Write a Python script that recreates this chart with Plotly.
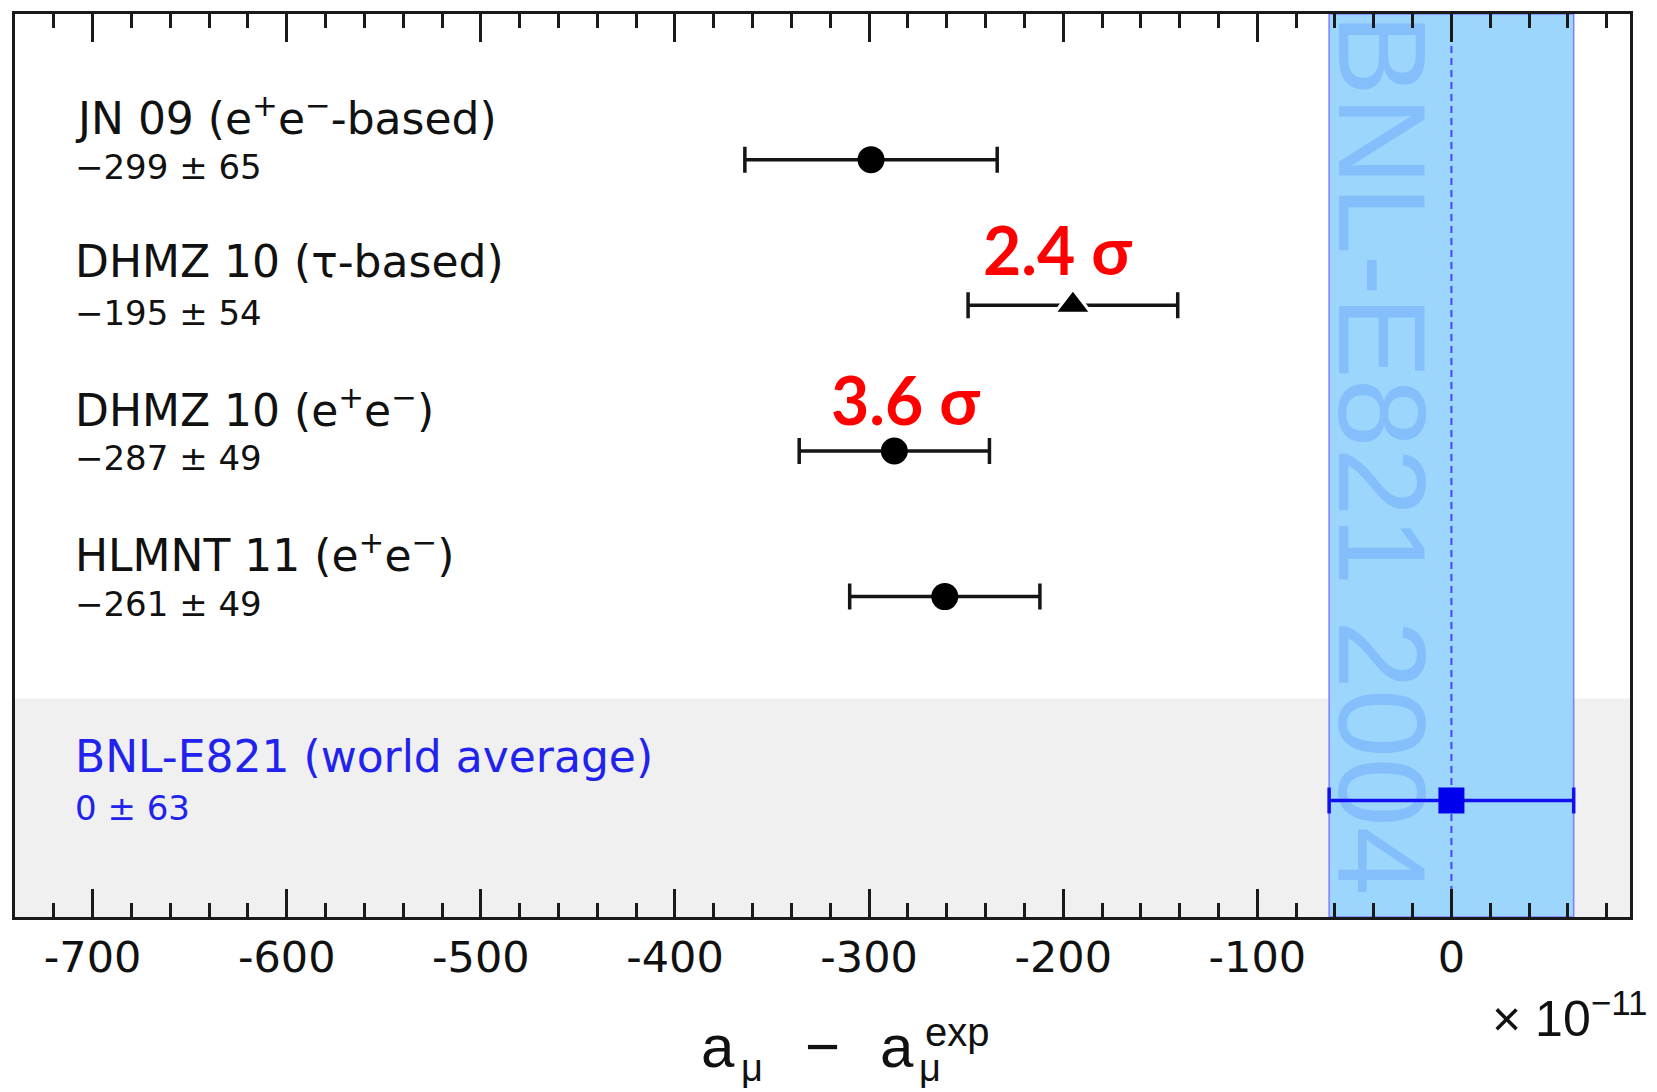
import plotly.graph_objects as go

# ---------------- data ----------------
labels = [
    "JN 09 (e<sup>+</sup>e<sup>−</sup>-based)",
    "DHMZ 10 (τ-based)",
    "DHMZ 10 (e<sup>+</sup>e<sup>−</sup>)",
    "HLMNT 11 (e<sup>+</sup>e<sup>−</sup>)",
]
values = [-299, -195, -287, -261]
errors = [65, 54, 49, 49]
symbols = ["circle", "triangle-up", "circle", "circle"]

exp_label = "BNL-E821 (world average)"
exp_value = 0
exp_error = 63
band_text = "BNL-E821 2004"

sigma_texts = ["2.4 σ", "3.6 σ"]
x_ticks = [-700, -600, -500, -400, -300, -200, -100, 0]

# ---------------- layout helpers ----------------
n = len(labels)
row_y = [n - i for i in range(n)]      # 4,3,2,1
exp_y = -0.4
y_lo, y_hi = -1.2, 5.0
x_lo, x_hi = -740, 92

OFF = 8                       # page body margin
W, H = 1657 - OFF, 1092 - OFF
ml, mt = 15 - OFF, 11 - OFF
mr = W - (1630 - OFF)
mb = H - (917 - OFF)
pw, ph = W - ml - mr, H - mt - mb


def px2paper(px, py):
    """reference-pixel position -> paper coordinates"""
    return (px - OFF - ml) / pw, (H - mb - (py - OFF)) / ph


def fmt(v, e):
    s = ("−" if v < 0 else "") + str(abs(v))
    return f"{s} ± {e}"


fig = go.Figure()

# theory points
fig.add_trace(go.Scatter(
    x=values, y=row_y, mode="markers",
    marker=dict(symbol=symbols, size=[27, 32, 27, 27], color="#000000",
                opacity=1, line=dict(width=[0, 3, 0, 0], color="white")),
    error_x=dict(type="data", array=errors, color="#151515",
                 thickness=3.5, width=13),
    opacity=1, showlegend=False, hoverinfo="skip",
))

# experimental point
fig.add_trace(go.Scatter(
    x=[exp_value], y=[exp_y], mode="markers",
    marker=dict(symbol="square", size=26, color="#0000ee", opacity=1,
                line=dict(width=0)),
    error_x=dict(type="data", array=[exp_error], color="#1010f0",
                 thickness=3.5, width=13),
    opacity=1, showlegend=False, hoverinfo="skip",
))

shapes = []
shapes.append(dict(type="rect", xref="x", yref="y", x0=x_lo, x1=x_hi,
                   y0=y_lo, y1=0.3, fillcolor="#f0f0f0", line=dict(width=0),
                   layer="below"))
shapes.append(dict(type="rect", xref="x", yref="y",
                   x0=exp_value - exp_error, x1=exp_value + exp_error,
                   y0=y_lo, y1=y_hi, fillcolor="#9dd6fc",
                   line=dict(color="#7d7dff", width=1.5), layer="below"))
shapes.append(dict(type="rect", xref="x", yref="y",
                   x0=exp_value - exp_error + 2, x1=exp_value + 2,
                   y0=y_lo + 0.15, y1=y_hi,
                   line=dict(width=0), fillcolor="rgba(0,0,0,0)", layer="below",
                   label=dict(text=band_text, textangle=90,
                              textposition="middle center",
                              font=dict(family="Liberation Sans",
                                        size=124, color="#84bffc"))))
shapes.append(dict(type="line", xref="x", yref="y", x0=exp_value, x1=exp_value,
                   y0=y_lo, y1=y_hi, line=dict(color="#4646ff", width=2,
                                               dash="7px,5px"),
                   layer="below"))

annotations = []
lab_font = dict(family="DejaVu Sans", size=44, color="#111111")
val_font = dict(family="DejaVu Sans", size=34, color="#111111")
for lab, v, e, y in zip(labels, values, errors, row_y):
    annotations.append(dict(x=-710, y=y + 0.30, xref="x", yref="y", text=lab,
                            showarrow=False, xanchor="left", yanchor="middle",
                            font=lab_font))
    annotations.append(dict(x=-710, y=y - 0.05, xref="x", yref="y",
                            text=fmt(v, e), showarrow=False, xanchor="left",
                            yanchor="middle", font=val_font))
annotations.append(dict(x=-710, y=exp_y + 0.30, xref="x", yref="y",
                        text=exp_label, showarrow=False, xanchor="left",
                        yanchor="middle",
                        font=dict(family="DejaVu Sans", size=44, color="#2222ee")))
annotations.append(dict(x=-710, y=exp_y - 0.05, xref="x", yref="y",
                        text=fmt(exp_value, exp_error), showarrow=False,
                        xanchor="left", yanchor="middle",
                        font=dict(family="DejaVu Sans", size=34, color="#2222ee")))

# significance labels
red_font = dict(family="Lato, Open Sans, sans-serif", size=66, color="#ff0000")
annotations.append(dict(x=-203, y=3.38, xref="x", yref="y",
                        text="<b>" + sigma_texts[0] + "</b>", showarrow=False,
                        font=red_font))
annotations.append(dict(x=-281, y=2.35, xref="x", yref="y",
                        text="<b>" + sigma_texts[1] + "</b>", showarrow=False,
                        font=red_font))

# x-axis title pieces:  a_mu  -  a_mu^exp
title_font = dict(family="Liberation Sans", size=60, color="#111")
small_font = dict(family="Liberation Sans", size=38, color="#111")
pieces = [
    ("a", 718, 1047, title_font),
    ("μ", 752, 1069, small_font),
    ("−", 822, 1047, title_font),
    ("a", 897, 1047, title_font),
    ("μ", 930, 1069, small_font),
    ("exp", 958, 1032, dict(family="Liberation Sans", size=40, color="#111")),
]
for txt, px, py, f in pieces:
    ax, ay = px2paper(px, py)
    annotations.append(dict(x=ax, y=ay, xref="paper", yref="paper", text=txt,
                            showarrow=False, xanchor="center",
                            yanchor="middle", font=f))
tx, ty = px2paper(1650, 1015)
annotations.append(dict(x=tx, y=ty, xref="paper", yref="paper",
                        text="× 10<sup>−11</sup>", showarrow=False,
                        xanchor="right", yanchor="middle",
                        font=dict(family="Liberation Sans", size=50, color="#111")))

fig.update_layout(
    width=W, height=H,
    margin=dict(l=ml, r=mr, t=mt, b=mb),
    paper_bgcolor="white", plot_bgcolor="white",
    annotations=annotations, shapes=shapes,
    xaxis=dict(range=[x_lo, x_hi], tickvals=x_ticks,
               ticktext=[str(t) for t in x_ticks],
               ticks="inside", ticklen=28, tickwidth=2.5, tickcolor="#1a1a1a",
               minor=dict(dtick=20, tick0=0, ticks="inside", ticklen=14,
                          tickwidth=2.5, tickcolor="#1a1a1a", showgrid=False),
               showline=True, linewidth=3, linecolor="#1a1a1a",
               mirror="allticks", showgrid=False, zeroline=False,
               tickfont=dict(family="DejaVu Sans", size=43, color="#111"),
               ticklabelstandoff=0),
    yaxis=dict(range=[y_lo, y_hi], showticklabels=False, ticks="",
               showline=True, linewidth=3, linecolor="#1a1a1a", mirror=True,
               showgrid=False, zeroline=False),
)

fig.write_html("out.html")
